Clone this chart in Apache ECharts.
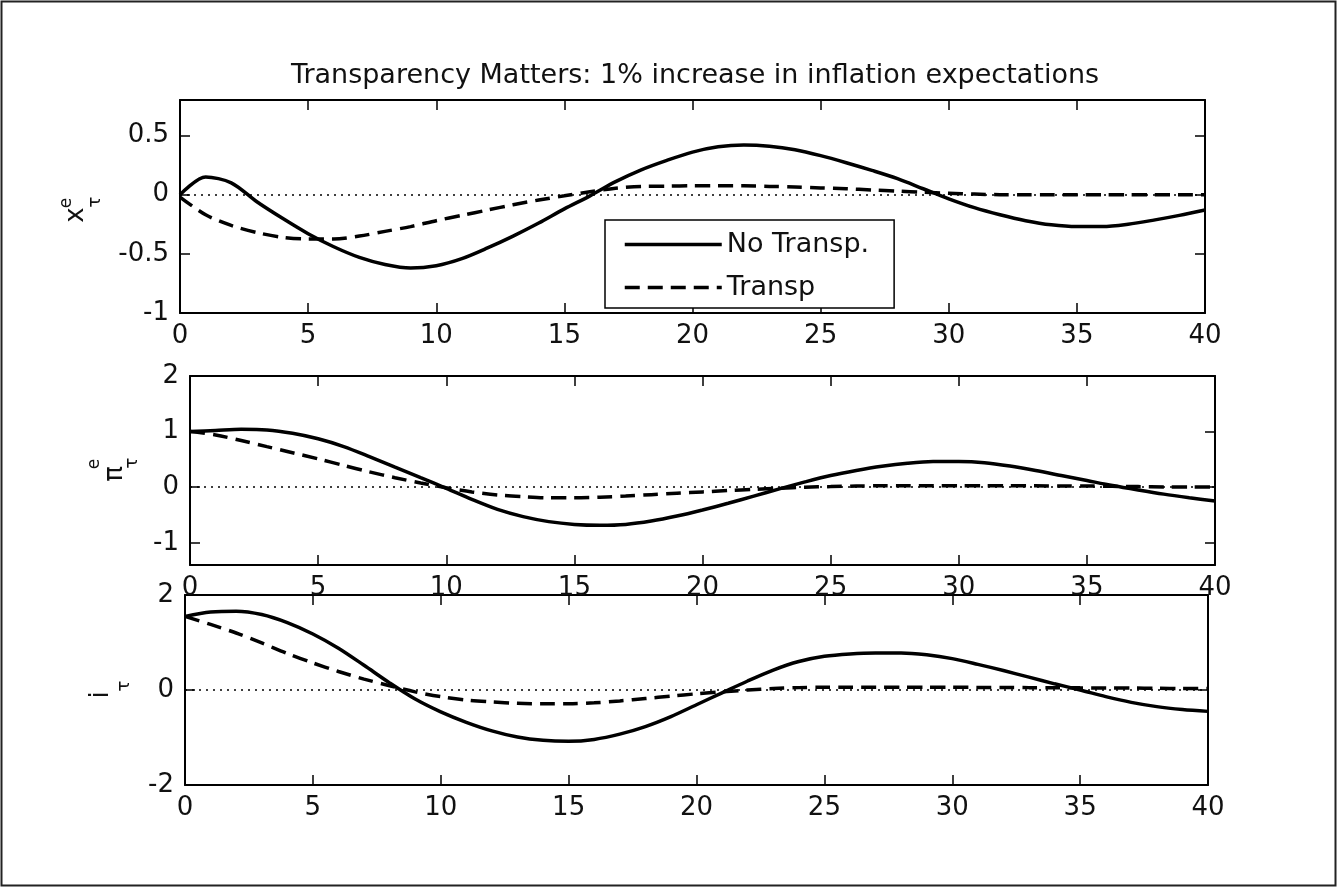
<!DOCTYPE html>
<html>
<head>
<meta charset="utf-8">
<script src="https://cdn.jsdelivr.net/npm/echarts@6/dist/echarts.min.js"></script>
<style>
    html, body { margin: 0; padding: 0; background: #fff; }
    #chart { width: 1338px; height: 888px; }
</style>
</head>
<body>
<div id="chart"></div>
<script>
    // quarters after the shock
    var periods = [0, 1, 2, 3, 4, 5, 6, 7, 8, 9, 10, 11, 12, 13, 14, 15, 16, 17, 18, 19, 20,
        21, 22, 23, 24, 25, 26, 27, 28, 29, 30, 31, 32, 33, 34, 35, 36, 37, 38, 39, 40];

    // output gap expectations
    var xNoTransp = [0.0, 0.15, 0.10, -0.06, -0.20, -0.33, -0.44, -0.53, -0.59, -0.62, -0.60,
        -0.54, -0.45, -0.35, -0.24, -0.12, -0.01, 0.11, 0.21, 0.29, 0.36,
        0.405, 0.42, 0.41, 0.38, 0.33, 0.27, 0.205, 0.135, 0.05, -0.035,
        -0.11, -0.17, -0.22, -0.255, -0.27, -0.27, -0.25, -0.215, -0.175, -0.13];
    var xTransp = [-0.02, -0.17, -0.26, -0.32, -0.36, -0.375, -0.375, -0.35, -0.31, -0.27, -0.22,
        -0.175, -0.13, -0.085, -0.045, -0.01, 0.025, 0.055, 0.07, 0.072, 0.075,
        0.075, 0.075, 0.07, 0.065, 0.057, 0.05, 0.04, 0.03, 0.02, 0.012,
        0.005, 0.0, 0.0, 0.0, 0.0, 0.0, 0.0, 0.0, 0.0, 0.0];

    // inflation expectations
    var piNoTransp = [1.0, 1.02, 1.04, 1.03, 0.97, 0.87, 0.73, 0.55, 0.36, 0.17, -0.02,
        -0.22, -0.40, -0.53, -0.62, -0.67, -0.685, -0.67, -0.61, -0.52, -0.41,
        -0.29, -0.16, -0.03, 0.095, 0.21, 0.30, 0.375, 0.43, 0.46, 0.46,
        0.44, 0.38, 0.30, 0.21, 0.12, 0.03, -0.05, -0.125, -0.19, -0.25];
    var piTransp = [1.0, 0.94, 0.84, 0.73, 0.62, 0.51, 0.39, 0.275, 0.17, 0.075, -0.01,
        -0.085, -0.14, -0.17, -0.19, -0.19, -0.18, -0.16, -0.135, -0.11, -0.085,
        -0.06, -0.04, -0.02, 0.0, 0.01, 0.02, 0.025, 0.025, 0.025, 0.025,
        0.025, 0.025, 0.025, 0.02, 0.02, 0.015, 0.01, 0.005, 0.005, 0.005];

    // interest rate
    var iNoTransp = [1.55, 1.64, 1.66, 1.59, 1.42, 1.18, 0.88, 0.52, 0.15, -0.19, -0.46,
        -0.68, -0.86, -0.99, -1.06, -1.08, -1.04, -0.93, -0.77, -0.56, -0.31,
        -0.06, 0.19, 0.42, 0.60, 0.71, 0.76, 0.78, 0.78, 0.74, 0.66,
        0.54, 0.41, 0.27, 0.13, 0.0, -0.14, -0.26, -0.35, -0.41, -0.45];
    var iTransp = [1.55, 1.38, 1.20, 0.99, 0.77, 0.57, 0.39, 0.23, 0.09, -0.04, -0.14,
        -0.21, -0.25, -0.28, -0.29, -0.29, -0.27, -0.23, -0.18, -0.13, -0.08,
        -0.04, 0.0, 0.03, 0.05, 0.06, 0.06, 0.06, 0.06, 0.06, 0.06,
        0.055, 0.055, 0.05, 0.05, 0.045, 0.04, 0.04, 0.035, 0.03, 0.03];

    var seriesNames = ['No Transp.', 'Transp'];
    var yTicks1 = [-1, -0.5, 0, 0.5];
    var yTicks2 = [-1, 0, 1, 2];
    var yTicks3 = [-2, 0, 2];

    var font = 'DejaVu Sans';
    var ink = '#111';
    var labelSize = 26;

    function pairs(values) {
        return periods.map(function (t, i) { return [t, values[i]]; });
    }

    // one box = bottom/top x axes + left/right y axes
    function xAxes(gridIndex) {
        var base = {
            type: 'value', gridIndex: gridIndex, min: 0, max: 40, interval: 5,
            axisLine: { show: true, onZero: false, lineStyle: { color: '#000', width: 2 } },
            axisTick: { show: true, inside: true, length: 10, lineStyle: { color: '#000', width: 1.5 } },
            splitLine: { show: false }
        };
        return [
            Object.assign({}, base, {
                position: 'bottom',
                axisLabel: { show: true, margin: 10, fontSize: labelSize, fontFamily: font, color: ink }
            }),
            Object.assign({}, base, { position: 'top', axisLabel: { show: false } })
        ];
    }

    function yAxes(gridIndex, min, max, ticks) {
        var base = {
            type: 'value', gridIndex: gridIndex, min: min, max: max,
            axisLine: { show: true, onZero: false, lineStyle: { color: '#000', width: 2 } },
            axisTick: { show: true, inside: true, length: 10, customValues: ticks, lineStyle: { color: '#000', width: 1.5 } },
            splitLine: { show: false }
        };
        return [
            Object.assign({}, base, {
                position: 'left',
                axisLabel: { show: true, margin: 11, customValues: ticks, fontSize: labelSize, fontFamily: font, color: ink }
            }),
            Object.assign({}, base, { position: 'right', axisLabel: { show: false } })
        ];
    }

    function panelSeries(axisIndex, solid, dashed) {
        return [{
            name: seriesNames[0], type: 'line',
            xAxisIndex: axisIndex, yAxisIndex: axisIndex,
            data: pairs(solid), symbol: 'none', smooth: 0.3,
            lineStyle: { color: '#000', width: 3.5, type: 'solid' },
            itemStyle: { color: '#000' },
            markLine: {
                silent: true, symbol: ['none', 'none'], label: { show: false },
                lineStyle: { color: '#000', width: 1.5, type: [2, 5] },
                data: [{ yAxis: 0 }]
            }
        }, {
            name: seriesNames[1], type: 'line',
            xAxisIndex: axisIndex, yAxisIndex: axisIndex,
            data: pairs(dashed), symbol: 'none', smooth: 0.3,
            lineStyle: { color: '#000', width: 3.5, type: [15, 8] },
            itemStyle: { color: '#000' }
        }];
    }

    // rotated math labels on the y side
    function rotText(text, x, y, size) {
        return {
            type: 'text', x: x, y: y, rotation: Math.PI / 2,
            style: { text: text, fontSize: size, fontFamily: font, fill: ink, align: 'center', verticalAlign: 'middle' }
        };
    }

    var chart = echarts.init(document.getElementById('chart'));

    chart.setOption({
        animation: false,
        backgroundColor: '#fff',
        title: {
            text: 'Transparency Matters: 1% increase in inflation expectations',
            left: 690, top: 57, textAlign: 'center',
            textStyle: { fontSize: 27, fontWeight: 'normal', fontFamily: font, color: ink }
        },
        legend: {
            data: seriesNames,
            orient: 'vertical',
            left: 605, top: 220,
            itemWidth: 97, itemHeight: 14, itemGap: 16,
            padding: [11, 25, 7, 18],
            borderColor: '#000', borderWidth: 1.5, borderRadius: 0,
            backgroundColor: '#fff',
            itemStyle: { opacity: 0 },
            lineStyle: { width: 3.5 },
            textStyle: { fontSize: 27, fontFamily: font, color: ink }
        },
        grid: [
            { left: 180, top: 100, right: 133, height: 213 },
            { left: 190, top: 376, right: 123, height: 189 },
            { left: 185, top: 595, right: 130, height: 190 }
        ],
        xAxis: xAxes(0).concat(xAxes(1), xAxes(2)),
        yAxis: yAxes(0, -1, 0.8, yTicks1).concat(yAxes(1, -1.4, 2, yTicks2), yAxes(2, -2, 2, yTicks3)),
        series: panelSeries(0, xNoTransp, xTransp)
            .concat(panelSeries(2, piNoTransp, piTransp), panelSeries(4, iNoTransp, iTransp)),
        graphic: [
            { type: 'rect', shape: { x: 1.5, y: 1.5, width: 1334, height: 884 }, style: { fill: 'none', stroke: '#222', lineWidth: 2 } },
            rotText('x', 76, 215, 26), rotText('e', 67, 203, 17), rotText('τ', 95, 202, 18),
            rotText('π', 115, 474, 26), rotText('e', 95, 464, 17), rotText('τ', 132, 463, 18),
            rotText('i', 101, 695, 26), rotText('τ', 124, 686, 18)
        ]
    });
</script>
</body>
</html>
